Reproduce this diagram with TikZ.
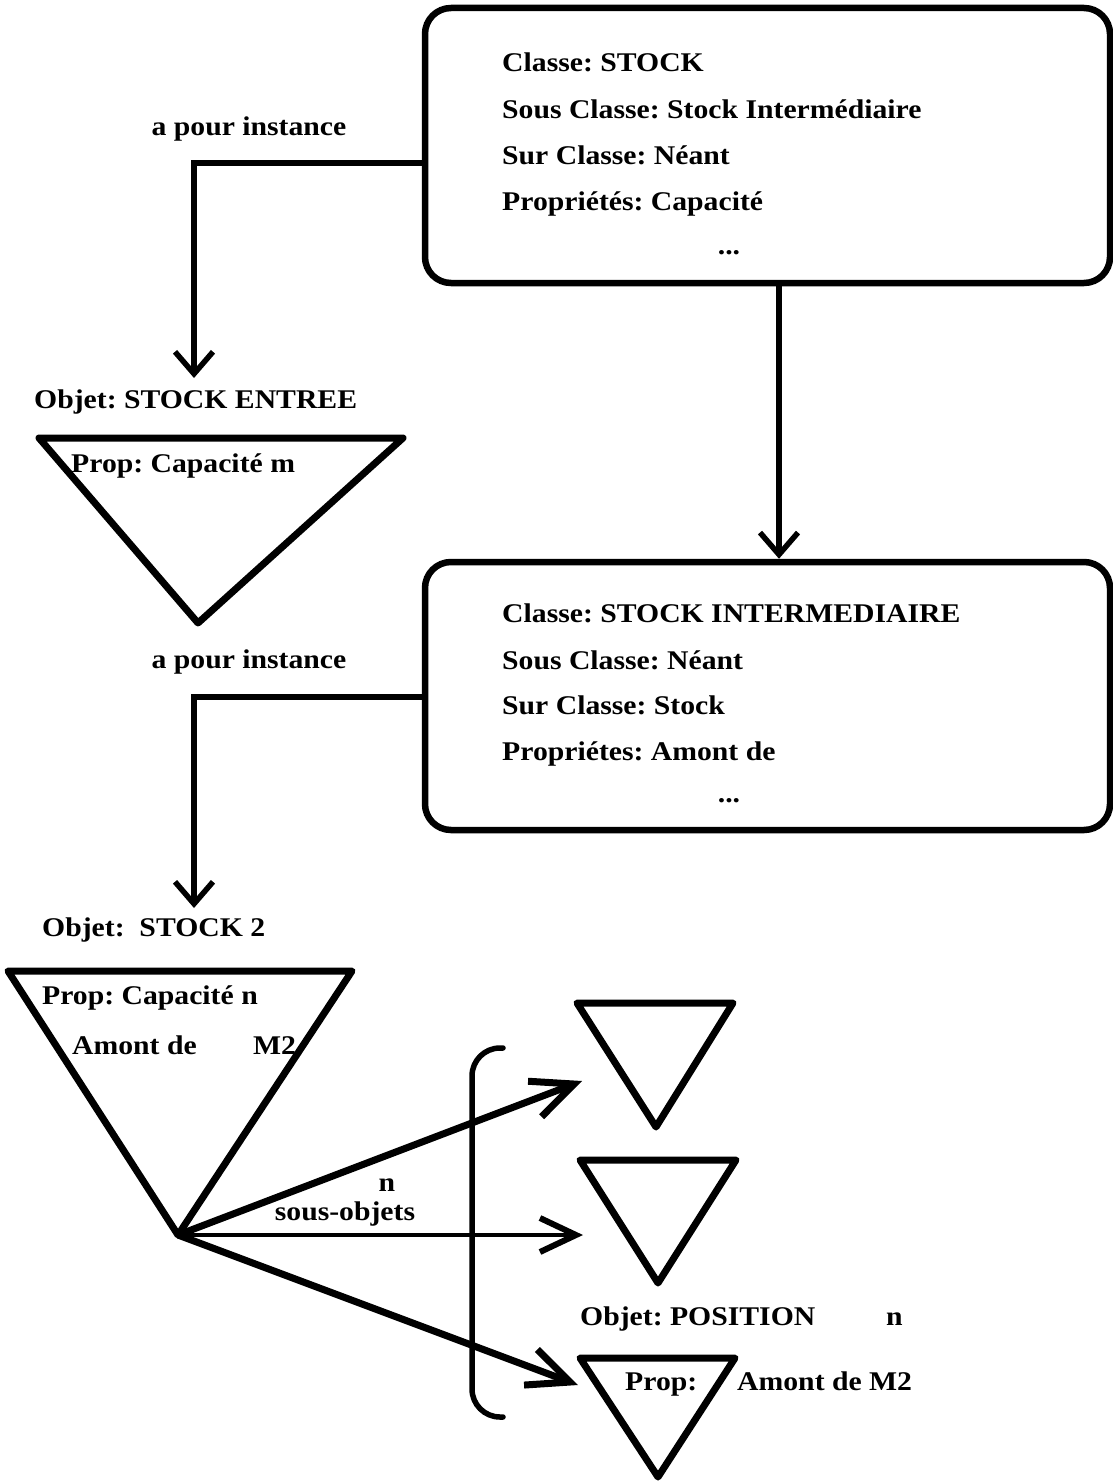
\documentclass[tikz,border=0pt]{standalone}
\usepackage{fontspec}
\setmainfont{Liberation Serif}[FakeStretch=1.1]
\usetikzlibrary{arrows.meta}
\frenchspacing

\begin{document}
\begin{tikzpicture}[x=1pt,y=-1pt,
  every node/.style={font=\fontsize{27}{32}\selectfont\bfseries, inner sep=0pt},
  txt/.style={anchor=base west},
  ctxt/.style={anchor=base},
  classbox/.style={draw, line width=6.5pt, rounded corners=26pt,
                   minimum width=685pt},
  conn/.style={line width=5.5pt,
               -{Straight Barb[length=22pt,width=38pt,line width=5.5pt]}},
  tri/.style={line width=7pt, line join=round},
  subarrow/.style={line width=7pt,
               -{Straight Barb[length=42pt,width=38pt,line width=7pt]}},
  subarrowthin/.style={line width=4.5pt,
               -{Straight Barb[length=36pt,width=34pt,line width=6pt]}},
  bracket/.style={line width=5.5pt, rounded corners=28pt, line cap=round}
]
\useasboundingbox (0,0) rectangle (1112,1482);

% ---- class boxes ----
\node[classbox, minimum height=275pt] (box1) at (767.5,145.5) {};
\node[txt] (b1l1) at (502,72)  {Classe: STOCK};
\node[txt] (b1l2) at (502,119) {Sous Classe: Stock Intermédiaire};
\node[txt] (b1l3) at (502,165) {Sur Classe: Néant};
\node[txt] (b1l4) at (502,211) {Propriétés: Capacité};
\node[ctxt] (b1l5) at (729,254) {...};

\node[classbox, minimum height=268pt] (box2) at (767.5,696) {};
\node[txt] (b2l1) at (502,622) {Classe: STOCK INTERMEDIAIRE};
\node[txt] (b2l2) at (502,669) {Sous Classe: Néant};
\node[txt] (b2l3) at (502,714) {Sur Classe: Stock};
\node[txt] (b2l4) at (502,760) {Propriétes: Amont de};
\node[ctxt] (b2l5) at (729,802) {...};

% ---- subclass link ----
\coordinate (vx) at (779,0);
\draw[conn] (box1.south -| vx) -- (box2.north -| vx);

% ---- instance links ----
\node[ctxt] (inst1) at (249,136) {a pour instance};
\node[ctxt] (inst2) at (249,668) {a pour instance};

\coordinate (k1) at (194,163);
\coordinate (t1) at (194,378);
\draw[conn] (box1.west |- k1) -- (k1) -- (t1);

\coordinate (k2) at (194,697);
\coordinate (t2) at (194,908);
\draw[conn] (box2.west |- k2) -- (k2) -- (t2);

% ---- object STOCK ENTREE ----
\node[txt] (obj1) at (34,408) {Objet: STOCK ENTREE};
\coordinate (tr1a) at (39,438);
\coordinate (tr1b) at (403,438);
\coordinate (tr1c) at (198,623);
\draw[tri] (tr1a) -- (tr1b) -- (tr1c) -- cycle;
\node[txt] (prop1) at (71,472) {Prop: Capacité m};

% ---- object STOCK 2 ----
\node[txt] (obj2) at (42,936) {Objet:\ \ STOCK 2};
\coordinate (tr2a) at (8,971);
\coordinate (tr2b) at (352,971);
\coordinate (tr2c) at (178,1235);
\draw[tri] (tr2a) -- (tr2b) -- (tr2c) -- cycle;
\node[txt] (prop2) at (42,1004) {Prop: Capacité n};
\node[txt] (prop2b) at (72,1054) {Amont de};
\node[txt] (prop2c) at (253,1054) {M2};

% ---- sub-objects ----
\coordinate (s1a) at (577,1003);
\coordinate (s1b) at (733,1003);
\coordinate (s1c) at (656,1127);
\draw[tri] (s1a) -- (s1b) -- (s1c) -- cycle;

\coordinate (s2a) at (580,1160);
\coordinate (s2b) at (736,1160);
\coordinate (s2c) at (658,1283);
\draw[tri] (s2a) -- (s2b) -- (s2c) -- cycle;

\coordinate (s3a) at (580,1358);
\coordinate (s3b) at (735,1358);
\coordinate (s3c) at (658,1477);
\draw[tri] (s3a) -- (s3b) -- (s3c) -- cycle;

\node[txt] (pos) at (580,1325) {Objet: POSITION};
\node[txt] (posn) at (886,1325) {n};
\node[txt] (pos3) at (625,1390) {Prop:};
\node[txt] (pos3b) at (737,1390) {Amont de M2};

% ---- bracket grouping the n sub-objects ----
\draw[bracket] (503,1048) -- (472,1048) -- (472,1417) -- (503,1417);

% ---- arrows to the sub-objects ----
\coordinate (a1) at (582,1081);
\coordinate (a2) at (583,1235);
\coordinate (a3) at (578,1385);
\draw[subarrow] (tr2c) -- (a1);
\draw[subarrowthin] (tr2c) -- (a2);
\draw[subarrow] (tr2c) -- (a3);

\node[ctxt] (nlab) at (387,1191) {n};
\node[ctxt] (sous) at (345,1220) {sous-objets};
\end{tikzpicture}
\end{document}
